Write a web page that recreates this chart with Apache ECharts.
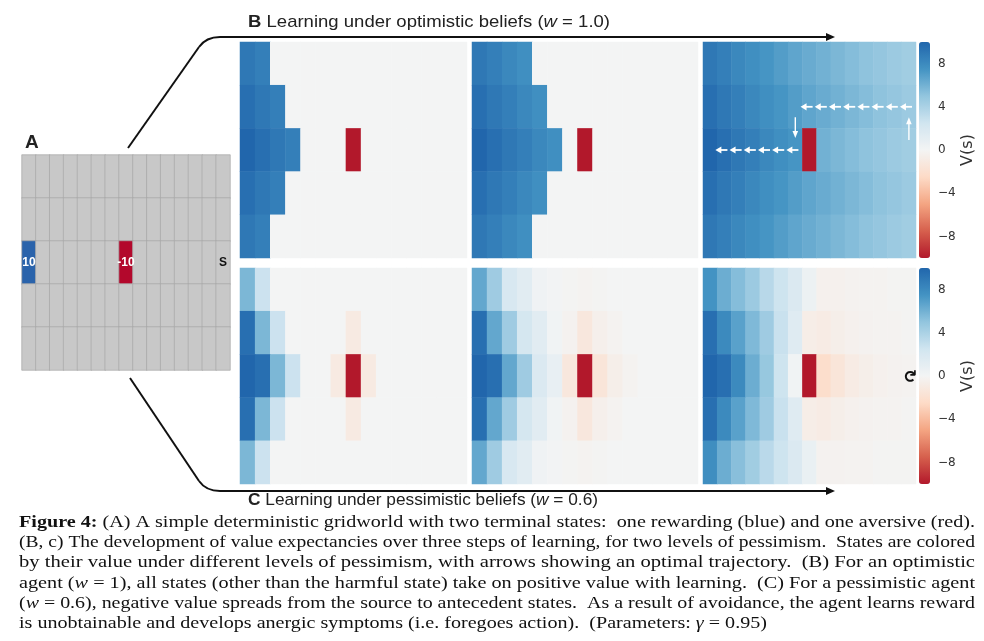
<!DOCTYPE html>
<html><head><meta charset="utf-8">
<script src="https://cdn.jsdelivr.net/npm/echarts@6/dist/echarts.min.js"></script>
<style>html,body{margin:0;padding:0;background:#fff}#c{width:984px;height:641px}</style>
</head><body><div id="c"></div>
<script>
// ---------- data ----------
const colLabels = ['0','1','2','3','4','5','6','7','8','9','10','11','12','13','14'];
const rowLabels = ['0','1','2','3','4'];

const gridworldRewards = [
  [0,0,0,0,0,0,0,0,0,0,0,0,0,0,0],
  [0,0,0,0,0,0,0,0,0,0,0,0,0,0,0],
  [10,0,0,0,0,0,0,-10,0,0,0,0,0,0,0],
  [0,0,0,0,0,0,0,0,0,0,0,0,0,0,0],
  [0,0,0,0,0,0,0,0,0,0,0,0,0,0,0]
];
const gridworldText = [[0,2,'10'],[7,2,'-10'],[14,2,'S']];

const optStep1 = [
  [9.0,8.6,0,0,0,0,0,0,0,0,0,0,0,0,0],
  [9.5,9.0,8.6,0,0,0,0,0,0,0,0,0,0,0,0],
  [10,9.5,9.0,8.6,0,0,0,-10,0,0,0,0,0,0,0],
  [9.5,9.0,8.6,0,0,0,0,0,0,0,0,0,0,0,0],
  [9.0,8.6,0,0,0,0,0,0,0,0,0,0,0,0,0]
];
const optStep2 = [
  [9.0,8.6,8.1,7.7,0,0,0,0,0,0,0,0,0,0,0],
  [9.5,9.0,8.6,8.1,7.7,0,0,0,0,0,0,0,0,0,0],
  [10,9.5,9.0,8.6,8.1,7.7,0,-10,0,0,0,0,0,0,0],
  [9.5,9.0,8.6,8.1,7.7,0,0,0,0,0,0,0,0,0,0],
  [9.0,8.6,8.1,7.7,0,0,0,0,0,0,0,0,0,0,0]
];
const optStep3 = [
  [9.0,8.6,8.1,7.7,7.4,7.0,6.6,6.3,6.0,5.7,5.4,5.1,4.9,4.6,4.4],
  [9.5,9.0,8.6,8.1,7.7,7.4,7.0,6.6,6.3,6.0,5.7,5.4,5.1,4.9,4.6],
  [10,9.5,9.0,8.6,8.1,7.7,7.4,-10,6.0,5.7,5.4,5.1,4.9,4.6,4.4],
  [9.5,9.0,8.6,8.1,7.7,7.4,7.0,6.6,6.3,6.0,5.7,5.4,5.1,4.9,4.6],
  [9.0,8.6,8.1,7.7,7.4,7.0,6.6,6.3,6.0,5.7,5.4,5.1,4.9,4.6,4.4]
];
const pesStep1 = [
  [5.7,2.7,0,0,0,0,0,0,0,0,0,0,0,0,0],
  [9.5,5.7,2.7,0,0,0,0,-1.0,0,0,0,0,0,0,0],
  [10,9.5,5.7,2.7,0,0,-1.0,-10,-1.0,0,0,0,0,0,0],
  [9.5,5.7,2.7,0,0,0,0,-1.0,0,0,0,0,0,0,0],
  [5.7,2.7,0,0,0,0,0,0,0,0,0,0,0,0,0]
];
const pesStep2 = [
  [6.5,4.5,2.0,1.3,0.3,0.1,-0.1,-0.2,-0.1,0,0,0,0,0,0],
  [9.5,6.5,4.5,2.2,1.3,0.2,-0.3,-1.3,-0.5,-0.2,0,0,0,0,0],
  [10,9.5,6.5,4.5,1.8,0.8,-1.3,-10,-1.5,-0.6,-0.2,0,0,0,0],
  [9.5,6.5,4.5,2.2,1.3,0.2,-0.3,-1.3,-0.5,-0.2,0,0,0,0,0],
  [6.5,4.5,2.0,1.3,0.3,0.1,-0.1,-0.2,-0.1,0,0,0,0,0,0]
];
const pesStep3 = [
  [7.5,6.2,5.4,4.6,3.5,2.6,1.8,0.5,-0.4,-0.4,-0.3,-0.2,-0.2,-0.1,-0.1],
  [9.5,8.0,6.8,5.6,4.5,2.8,1.5,-0.7,-0.9,-0.6,-0.4,-0.3,-0.2,-0.2,-0.1],
  [10,9.5,8.0,6.2,4.8,2.6,0.2,-10,-2.2,-1.5,-0.9,-0.6,-0.4,-0.3,-0.2],
  [9.5,8.0,6.8,5.6,4.5,2.8,1.5,-0.7,-0.9,-0.6,-0.4,-0.3,-0.2,-0.2,-0.1],
  [7.8,6.2,5.3,4.4,3.4,2.6,1.8,0.7,-0.3,-0.3,-0.2,-0.2,-0.1,-0.1,-0.1]
];
const colorbarTicks = [8,4,0,-4,-8];
// optimal trajectory in the optimistic converged panel: [col,row,direction]
const trajectory = [
  [1,2,'left'],[2,2,'left'],[3,2,'left'],[4,2,'left'],[5,2,'left'],[6,2,'left'],
  [7,1,'left'],[8,1,'left'],[9,1,'left'],[10,1,'left'],[11,1,'left'],[12,1,'left'],[13,1,'left'],[14,1,'left'],
  [6,1,'down'],[14,2,'up']
];
const loopCells = [[14,2]];

// ---------- styling ----------
const palette = ['#b2182b','#d6604d','#f4a582','#fddbc7','#f3f4f4','#d1e5f0','#92c5de','#4393c3','#2166ac'];
const grids = [
  {left:22, top:155, width:208, height:215},
  {left:240, top:42, width:227, height:216},
  {left:472, top:42, width:226, height:216},
  {left:703, top:42, width:213, height:216},
  {left:240, top:268, width:227, height:216},
  {left:472, top:268, width:226, height:216},
  {left:703, top:268, width:213, height:216},
  {left:919, top:42, width:11, height:216},
  {left:919, top:268, width:11, height:216}
];

function toCells(g){const o=[];g.forEach((row,r)=>row.forEach((v,c)=>o.push([c,r,v])));return o;}

const xAxes=[], yAxes=[];
for(let i=0;i<7;i++){
  xAxes.push({type:'category',data:colLabels,gridIndex:i,show:false});
  yAxes.push({type:'category',data:rowLabels,gridIndex:i,inverse:true,show:false});
}
const fmt = v => v<0 ? '\u2212'+Math.abs(v) : String(v);
for(let i=7;i<9;i++){
  xAxes.push({type:'value',gridIndex:i,show:false,min:0,max:1});
  yAxes.push({type:'value',gridIndex:i,min:-10,max:10,position:'right',
    axisLine:{show:false},splitLine:{show:false},
    axisTick:{show:true,length:4,lineStyle:{color:'#444',width:1},customValues:colorbarTicks},
    axisLabel:{customValues:colorbarTicks,formatter:fmt,margin:8,fontSize:12,color:'#333',fontFamily:'DejaVu Sans'},
    name:'V(s)',nameLocation:'middle',nameGap:27,nameRotate:90,
    nameTextStyle:{fontSize:16,color:'#333',fontFamily:'DejaVu Sans'}});
}

const gwData=[];
gridworldRewards.forEach((row,r)=>row.forEach((v,c)=>{
  const item={value:[c,r,v],itemStyle:{color: v>0?'#2a63ab':(v<0?'#b3082c':'#c8c8c8')}};
  const t=gridworldText.find(e=>e[0]===c&&e[1]===r);
  if(t){item.label={show:true,formatter:t[2],color:v===0?'#111':'#fff',fontWeight:'bold',fontSize:12,fontFamily:'Liberation Sans'};}
  gwData.push(item);
}));

const series=[
  {type:'heatmap',xAxisIndex:0,yAxisIndex:0,data:gwData,
   itemStyle:{borderColor:'#a8a8a8',borderWidth:0.7},emphasis:{disabled:true},label:{show:false}}
];
[optStep1,optStep2,optStep3,pesStep1,pesStep2,pesStep3].forEach((g,i)=>{
  series.push({type:'heatmap',xAxisIndex:i+1,yAxisIndex:i+1,data:toCells(g),
    itemStyle:{borderWidth:0},emphasis:{disabled:true}});
});
series.push({type:'custom',xAxisIndex:3,yAxisIndex:3,data:trajectory.map(t=>[t[0],t[1]]),silent:true,
  renderItem:function(params,api){
    const dir=trajectory[params.dataIndex][2];
    const c=api.coord([api.value(0),api.value(1)]);
    const s=api.size([1,1]);
    let x1,y1,x2,y2,hl,hw,lw;
    if(dir==='left'){x1=c[0]+0.22*s[0];y1=c[1];x2=c[0]-0.63*s[0];y2=c[1];hl=6;hw=3.6;lw=1.8;}
    else if(dir==='down'){x1=c[0];y1=c[1]+0.24*s[1];x2=c[0];y2=c[1]+0.72*s[1];hl=7;hw=2.8;lw=1.4;}
    else {x1=c[0];y1=c[1]-0.23*s[1];x2=c[0];y2=c[1]-0.76*s[1];hl=7;hw=2.8;lw=1.4;}
    const dx=x2-x1, dy=y2-y1, L=Math.hypot(dx,dy), ux=dx/L, uy=dy/L;
    const bx=x2-ux*hl, by=y2-uy*hl;
    return {type:'group',children:[
      {type:'line',shape:{x1:x1,y1:y1,x2:bx+ux,y2:by+uy},style:{stroke:'#fff',lineWidth:lw}},
      {type:'polygon',shape:{points:[[x2,y2],[bx-uy*hw,by+ux*hw],[bx+uy*hw,by-ux*hw]]},style:{fill:'#fff'}}
    ]};
  }});
series.push({type:'custom',xAxisIndex:6,yAxisIndex:6,data:loopCells,silent:true,
  renderItem:function(params,api){
    const c=api.coord([api.value(0),api.value(1)]);
    return {type:'text',x:c[0],y:c[1],rotation:-Math.PI/2,
      style:{text:'\u21BB',fontSize:17,fontWeight:'bold',fill:'#111',align:'center',verticalAlign:'middle',fontFamily:'DejaVu Sans'}};
  }});

// ---------- text helpers ----------
const ctx=document.createElement('canvas').getContext('2d');
function measure(segs,size,fam){
  let w=0;
  segs.forEach(s=>{
    const st=s[1]==='i'?'italic':'normal', wt=s[1]==='b'?'bold':'normal';
    ctx.font=st+' '+wt+' '+size+'px '+fam; w+=ctx.measureText(s[0]).width;
  });
  return w;
}
function richStr(segs){return segs.map(s=>s[1]?('{'+s[1]+'|'+s[0]+'}'):s[0]).join('');}
function textEl(segs,x,y,size,fam,targetW,color){
  const w=measure(segs,size,fam);
  const sc=targetW? targetW/w : 1;
  return {type:'text',x:x,y:y,scaleX:sc,silent:true,
    style:{text:richStr(segs),fontSize:size,fontFamily:fam,fill:color||'#111',verticalAlign:'middle',align:'left',
      rich:{b:{fontWeight:'bold',fontSize:size,fontFamily:fam},i:{fontStyle:'italic',fontSize:size,fontFamily:fam}}}};
}

const captionLines=[
  [['Figure 4:','b'],[' (A) A simple deterministic gridworld with two terminal states:  one rewarding (blue) and one aversive (red).','']],
  [['(B, c) The development of value expectancies over three steps of learning, for two levels of pessimism.  States are colored','']],
  [['by their value under different levels of pessimism, with arrows showing an optimal trajectory.  (B) For an optimistic','']],
  [['agent (',''],['w','i'],[' = 1), all states (other than the harmful state) take on positive value with learning.  (C) For a pessimistic agent','']],
  [['(',''],['w','i'],[' = 0.6), negative value spreads from the source to antecedent states.  As a result of avoidance, the agent learns reward','']],
  [['is unobtainable and develops anergic symptoms (i.e. foregoes action).  (Parameters: ',''],['\u03B3','i'],[' = 0.95)','']]
];
const capFam='Liberation Serif', capSize=17, capX=19, capW=956;
const capY=[523,543,563,584,604,624];
let scs=[];
captionLines.slice(0,5).forEach(l=>scs.push(capW/measure(l,capSize,capFam)));
const avgSc=scs.reduce((a,b)=>a+b,0)/scs.length;
const graphics=[];
captionLines.forEach((l,i)=>{
  const tw = i<5 ? capW : measure(l,capSize,capFam)*avgSc;
  graphics.push(textEl(l,capX,capY[i],capSize,capFam,tw,'#111'));
});
graphics.push(textEl([['B','b'],[' Learning under optimistic beliefs (',''],['w','i'],[' = 1.0)','']],248,22,17,'Liberation Sans',362,'#222'));
graphics.push(textEl([['C','b'],[' Learning under pessimistic beliefs (',''],['w','i'],[' = 0.6)','']],248,500,17,'Liberation Sans',350,'#222'));
graphics.push({type:'text',x:25,y:143,silent:true,style:{text:'A',fontSize:19,fontWeight:'bold',fontFamily:'Liberation Sans',fill:'#222',verticalAlign:'middle'}});
const stroke={stroke:'#111',lineWidth:2,fill:null};
graphics.push({type:'line',silent:true,shape:{x1:128,y1:148,x2:199,y2:47},style:stroke});
graphics.push({type:'bezierCurve',silent:true,shape:{x1:199,y1:47,cpx1:206,cpy1:37,x2:220,y2:37},style:stroke});
graphics.push({type:'line',silent:true,shape:{x1:220,y1:37,x2:828,y2:37},style:stroke});
graphics.push({type:'polygon',silent:true,shape:{points:[[826,33],[835,37],[826,41]]},style:{fill:'#111'}});
graphics.push({type:'line',silent:true,shape:{x1:130,y1:378,x2:199,y2:481},style:stroke});
graphics.push({type:'bezierCurve',silent:true,shape:{x1:199,y1:481,cpx1:206,cpy1:491,x2:220,y2:491},style:stroke});
graphics.push({type:'line',silent:true,shape:{x1:220,y1:491,x2:828,y2:491},style:stroke});
graphics.push({type:'polygon',silent:true,shape:{points:[[826,487],[835,491],[826,495]]},style:{fill:'#111'}});

const vmBase={type:'continuous',min:-10,max:10,inRange:{color:palette},itemWidth:11,itemHeight:216,
  calculable:false,padding:0,hoverLink:false,show:true};

const option={
  animation:false,
  backgroundColor:'#fff',
  grid:grids.map(g=>Object.assign({containLabel:false},g)),
  xAxis:xAxes, yAxis:yAxes,
  visualMap:[
    Object.assign({},vmBase,{seriesIndex:[1,2,3],left:919,top:42}),
    Object.assign({},vmBase,{seriesIndex:[4,5,6],left:919,top:268})
  ],
  series:series,
  graphic:graphics
};
const chart=echarts.init(document.getElementById('c'),null,{renderer:'canvas'});
chart.setOption(option);
</script></body></html>
